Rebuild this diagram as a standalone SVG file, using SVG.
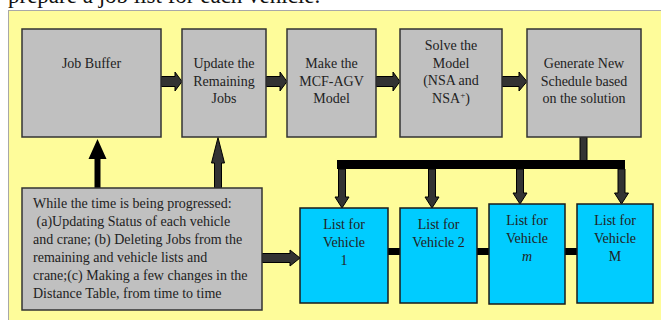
<svg xmlns="http://www.w3.org/2000/svg" width="661" height="320" viewBox="0 0 661 320">
<style>
.t{font-family:"Liberation Serif","Times New Roman",serif;font-size:14px;fill:#222;text-anchor:middle}
.tl{font-family:"Liberation Serif","Times New Roman",serif;font-size:14px;fill:#222}
.g{fill:#C0C0C0;stroke:#333;stroke-width:1.5}
.b{fill:#00CCFF;stroke:#1a1a1a;stroke-width:1.5}
.ar{fill:#333;stroke:#000;stroke-width:1}
.bl{fill:#000}
</style>
<rect x="0" y="0" width="661" height="320" fill="#fff"/>
<text x="8" y="2.5" font-family="Liberation Serif, serif" font-size="23" fill="#111">prepare a job list for each vehicle.</text>
<rect x="8.5" y="10.5" width="660" height="320" fill="#FEFC9A" stroke="#A8A8A8" stroke-width="1"/>

<g id="connectors">
  <polygon class="ar" points="161,76.5 175,76.5 175,72 182,81.5 175,91 175,86.5 161,86.5"/>
  <polygon class="ar" points="266,76.5 280,76.5 280,72 287,81.5 280,91 280,86.5 266,86.5"/>
  <polygon class="ar" points="376,76.5 393,76.5 393,72 400,81.5 393,91 393,86.5 376,86.5"/>
  <polygon class="ar" points="502,76.5 519,76.5 519,72 527,81.5 519,91 519,86.5 502,86.5"/>
  <!-- up arrows -->
  <polygon class="bl" points="94.5,188 94.5,159 88.5,159 97.5,139 106.5,159 100.5,159 100.5,188"/>
  <polygon class="ar" points="214.5,188 214.5,163 211.5,163 218,137.5 224.5,163 221.5,163 221.5,188"/>
  <!-- to vehicle 1 -->
  <polygon class="ar" points="262,253.5 290,253.5 290,250 300,258 290,266 290,262.5 262,262.5"/>
  <!-- from generate to bus -->
  <rect class="ar" x="580" y="137" width="7" height="24"/>
  <rect class="bl" x="337" y="160" width="288" height="9"/>
  <!-- down arrows -->
  <polygon class="ar" points="338.5,169 345.5,169 345.5,197 349,197 342,208 335,197 338.5,197"/>
  <polygon class="ar" points="428.5,169 435.5,169 435.5,197 439,197 432,208 425,197 428.5,197"/>
  <polygon class="ar" points="516.5,169 523.5,169 523.5,193 527,193 520,204 513,193 516.5,193"/>
  <polygon class="ar" points="618,169 625,169 625,193 628.5,193 621.5,204 614.5,193 618,193"/>
  <!-- links between vehicle lists -->
  <rect class="bl" x="388" y="248" width="12" height="7"/>
  <rect class="bl" x="477" y="248" width="12" height="7"/>
  <rect class="bl" x="565" y="248" width="12" height="7"/>
</g>

<g id="job-buffer">
  <rect class="g" x="22" y="29" width="139" height="108"/>
  <text class="t" x="91.5" y="68">Job Buffer</text>
</g>
<g id="update">
  <rect class="g" x="182" y="29" width="84" height="108"/>
  <text class="t" x="224" y="68">Update the</text>
  <text class="t" x="224" y="85.5">Remaining</text>
  <text class="t" x="224" y="103">Jobs</text>
</g>
<g id="make">
  <rect class="g" x="287" y="29" width="89" height="108"/>
  <text class="t" x="331.5" y="68">Make the</text>
  <text class="t" x="331.5" y="85.5">MCF-AGV</text>
  <text class="t" x="331.5" y="103">Model</text>
</g>
<g id="solve">
  <rect class="g" x="400" y="29" width="102" height="108"/>
  <text class="t" x="451" y="50">Solve the</text>
  <text class="t" x="451" y="67.7">Model</text>
  <text class="t" x="451" y="85.4">(NSA and</text>
  <text class="t" x="451" y="103">NSA<tspan font-size="9" dy="-5">+</tspan><tspan dy="5">)</tspan></text>
</g>
<g id="generate">
  <rect class="g" x="527" y="29" width="114" height="108"/>
  <text class="t" x="584" y="68">Generate New</text>
  <text class="t" x="584" y="85.5">Schedule based</text>
  <text class="t" x="584" y="103">on the solution</text>
</g>
<g id="progress">
  <rect class="g" x="22" y="188" width="240" height="122"/>
  <text class="tl" x="33" y="208">While the time is being progressed:</text>
  <text class="tl" x="33" y="226" xml:space="preserve"> (a)Updating Status of each vehicle</text>
  <text class="tl" x="33" y="244">and crane; (b) Deleting Jobs from the</text>
  <text class="tl" x="33" y="262">remaining and vehicle lists and</text>
  <text class="tl" x="33" y="280">crane;(c) Making a few changes in the</text>
  <text class="tl" x="33" y="298">Distance Table, from time to time</text>
</g>
<g id="vehicle-1">
  <rect class="b" x="300" y="208" width="88" height="95"/>
  <text class="t" x="344" y="229">List for</text>
  <text class="t" x="344" y="247">Vehicle</text>
  <text class="t" x="344" y="265">1</text>
</g>
<g id="vehicle-2">
  <rect class="b" x="400" y="208" width="77" height="95"/>
  <text class="t" x="438.5" y="229">List for</text>
  <text class="t" x="438.5" y="247">Vehicle 2</text>
</g>
<g id="vehicle-m">
  <rect class="b" x="489" y="204" width="76" height="100"/>
  <text class="t" x="527" y="225">List for</text>
  <text class="t" x="527" y="243">Vehicle</text>
  <text class="t" x="527" y="261" font-style="italic">m</text>
</g>
<g id="vehicle-M">
  <rect class="b" x="577" y="204" width="76" height="99"/>
  <text class="t" x="615" y="225">List for</text>
  <text class="t" x="615" y="243">Vehicle</text>
  <text class="t" x="615" y="261">M</text>
</g>
</svg>
